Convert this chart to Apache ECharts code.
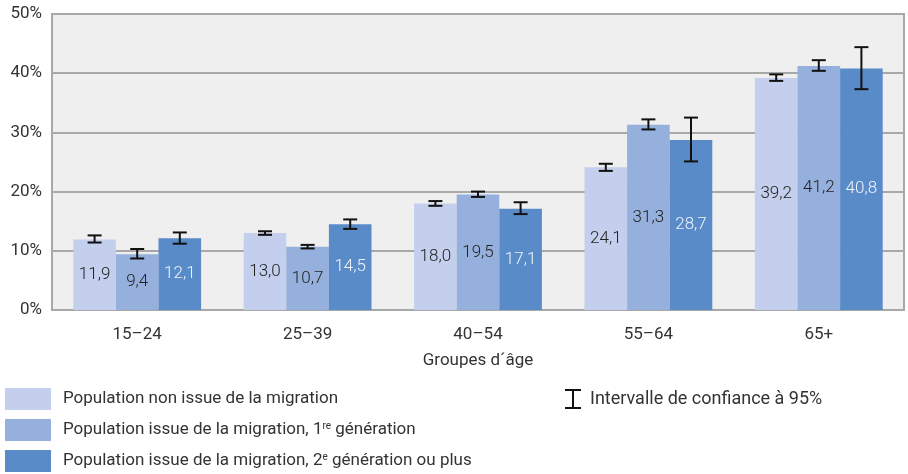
<!DOCTYPE html>
<html>
<head>
    <meta charset="utf-8"/>
    <script src="https://cdn.jsdelivr.net/npm/echarts@6/dist/echarts.min.js"></script>
    <style>
        html, body { margin: 0; padding: 0; background: #fff; }
        #chart { width: 908px; height: 474px; }
    </style>
</head>
<body>
<div id="chart"></div>
<script>
    // donnees
    var categories = ['15–24', '25–39', '40–54', '55–64', '65+'];
    var seriesNames = [
        'Population non issue de la migration',
        'Population issue de la migration, 1re génération',
        'Population issue de la migration, 2e génération ou plus'
    ];
    var nonMigr = [11.9, 13.0, 18.0, 24.1, 39.2];
    var gen1 = [9.4, 10.7, 19.5, 31.3, 41.2];
    var gen2 = [12.1, 14.5, 17.1, 28.7, 40.8];
    // intervalle de confiance [bas, haut]
    var ciNonMigr = [[11.4, 12.6], [12.7, 13.3], [17.6, 18.4], [23.5, 24.7], [38.7, 39.8]];
    var ciGen1 = [[8.7, 10.3], [10.4, 11.0], [19.1, 20.0], [30.5, 32.2], [40.4, 42.2]];
    var ciGen2 = [[11.2, 13.1], [13.7, 15.3], [16.2, 18.2], [25.1, 32.5], [37.3, 44.4]];
    var yTicks = [0, 10, 20, 30, 40, 50];

    var colors = ['#c3cfec', '#95b0dc', '#5a8bc9'];
    var labelColors = ['#222', '#222', '#eef3fb'];
    var fontFam = 'Roboto, "Open Sans", sans-serif';
    var barGapCat = 0.25;

    function barSeries(name, data, idx) {
        return {
            name: name,
            type: 'bar',
            data: data,
            barGap: '0%',
            barCategoryGap: (barGapCat * 100) + '%',
            itemStyle: {color: colors[idx]},
            label: {
                show: true,
                position: 'inside',
                color: labelColors[idx],
                fontFamily: fontFam,
                fontSize: 17,
                fontWeight: 300,
                formatter: function (p) {
                    return p.value.toFixed(1).replace('.', ',');
                }
            },
            z: 2
        };
    }

    function ciSeries(ci, idx) {
        var d = ci.map(function (c, i) { return [i, c[0], c[1]]; });
        return {
            name: 'Intervalle de confiance à 95%',
            type: 'custom',
            data: d,
            encode: {x: 0, y: [1, 2]},
            z: 5,
            renderItem: function (params, api) {
                var i = api.value(0);
                var lo = api.coord([i, api.value(1)]);
                var hi = api.coord([i, api.value(2)]);
                var band = api.size([1, 0])[0];
                var bw = band * (1 - barGapCat) / 3;
                var x = lo[0] + (idx - 1) * bw;
                var hw = 7;
                var st = {stroke: '#111', lineWidth: 2};
                return {
                    type: 'group',
                    children: [
                        {type: 'line', shape: {x1: x, y1: lo[1], x2: x, y2: hi[1]}, style: st},
                        {type: 'line', shape: {x1: x - hw, y1: lo[1], x2: x + hw, y2: lo[1]}, style: st},
                        {type: 'line', shape: {x1: x - hw, y1: hi[1], x2: x + hw, y2: hi[1]}, style: st}
                    ]
                };
            }
        };
    }

    var legendRich = {
        sup: {fontSize: 10, verticalAlign: 'top', color: '#333', fontFamily: fontFam, padding: [0, 0, 7, 0]},
        n: {fontSize: 17, color: '#333', fontFamily: fontFam}
    };

    function seriesLegend(idx, top) {
        return {
            left: 5,
            top: top,
            padding: 0,
            itemWidth: 46,
            itemHeight: 22,
            icon: 'rect',
            data: [seriesNames[idx]],
            textStyle: {color: '#333', fontSize: 17, fontFamily: fontFam, padding: [0, 0, 0, 7], rich: legendRich},
            formatter: function (name) {
                if (name.indexOf('1re') >= 0) {
                    return '{n|Population issue de la migration, 1}{sup|re}{n| génération}';
                }
                if (name.indexOf('2e') >= 0) {
                    return '{n|Population issue de la migration, 2}{sup|e}{n| génération ou plus}';
                }
                return '{n|' + name + '}';
            },
            selectedMode: false
        };
    }

    var myChart = echarts.init(document.getElementById('chart'), null, {renderer: 'canvas'});
    var option = {
        animation: false,
        textStyle: {fontFamily: fontFam},
        grid: {
            left: 52, right: 4, top: 14, bottom: 164,
            show: true,
            backgroundColor: '#efefef',
            borderColor: '#a8a8a8',
            borderWidth: 2
        },
        legend: [
            seriesLegend(0, 388),
            seriesLegend(1, 419),
            seriesLegend(2, 450),
            {
                left: 565,
                top: 389,
                padding: 0,
                itemWidth: 16,
                itemHeight: 20,
                icon: 'path://M0,0h16v2h-7v16h7v2h-16v-2h7v-16h-7z',
                data: [{name: 'Intervalle de confiance à 95%', itemStyle: {color: '#111'}}],
                textStyle: {color: '#333', fontSize: 18, fontFamily: fontFam, padding: [0, 0, 0, 4]},
                selectedMode: false
            }
        ],
        xAxis: {
            type: 'category',
            data: categories,
            axisLine: {lineStyle: {color: '#a8a8a8', width: 2}},
            axisTick: {show: false},
            axisLabel: {color: '#333', fontSize: 17, margin: 16},
            name: 'Groupes d´âge',
            nameLocation: 'middle',
            nameGap: 42,
            nameTextStyle: {color: '#333', fontSize: 17}
        },
        yAxis: {
            type: 'value',
            min: yTicks[0],
            max: yTicks[yTicks.length - 1],
            interval: 10,
            axisLine: {show: true, lineStyle: {color: '#a8a8a8', width: 2}},
            axisTick: {show: false},
            splitLine: {lineStyle: {color: '#a8a8a8', width: 2}},
            axisLabel: {color: '#333', fontSize: 17, margin: 10, formatter: '{value}%'}
        },
        series: [
            barSeries(seriesNames[0], nonMigr, 0),
            barSeries(seriesNames[1], gen1, 1),
            barSeries(seriesNames[2], gen2, 2),
            ciSeries(ciNonMigr, 0),
            ciSeries(ciGen1, 1),
            ciSeries(ciGen2, 2)
        ]
    };
    myChart.setOption(option);
</script>
</body>
</html>
